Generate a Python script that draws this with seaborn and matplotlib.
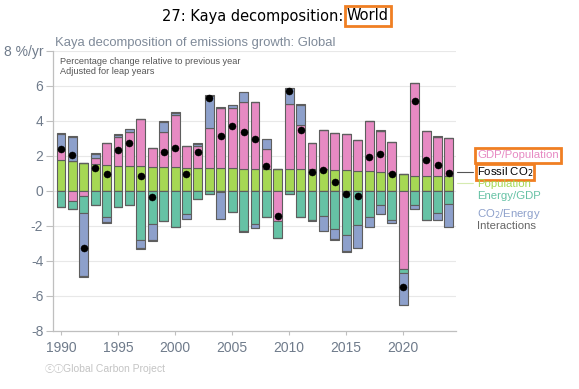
import numpy as np
import pandas as pd
import matplotlib
matplotlib.use("Agg")
import matplotlib.pyplot as plt
import seaborn as sns

years = list(range(1990, 2025))
population = [1.75, 1.68, 1.56, 1.52, 1.47, 1.43, 1.43, 1.39, 1.37, 1.33, 1.33,
              1.31, 1.30, 1.30, 1.30, 1.28, 1.26, 1.26, 1.24, 1.24, 1.24,
              1.22, 1.22, 1.22, 1.18, 1.16, 1.12, 1.12, 1.07, 1.03, 0.95,
              0.84, 0.82, 0.82, 0.82]
gdp_per_pop = [0.59, -0.60, -0.29, 0.33, 1.25, 1.64, 1.94, 2.71, 1.05, 2.00, 2.99,
               1.24, 1.23, 2.28, 3.44, 3.46, 3.79, 3.79, 1.14, -1.71, 3.71,
               2.55, 1.50, 2.27, 2.10, 2.08, 1.78, 2.84, 2.34, 1.75, -4.44,
               5.31, 2.59, 2.27, 2.21]
energy_per_gdp = [-0.90, -0.45, -0.99, -0.82, -1.50, -0.90, -0.82, -2.82, -1.90, -1.75, -2.06,
                  -1.33, -0.48, -0.17, -0.05, -1.20, -2.29, -1.90, -1.52, -0.96, -0.17,
                  -1.47, -1.66, -1.43, -2.19, -2.51, -1.96, -1.52, -0.82, -1.64, -0.27,
                  -0.82, -1.66, -1.26, -0.76]
co2_per_energy = [0.90, 1.37, -3.58, 0.23, -0.31, 0.13, 0.15, -0.46, -0.92, 0.61, 0.12,
                  -0.29, 0.14, 1.81, -1.57, 0.14, 0.61, -0.20, 0.57, 0.00, 0.90,
                  1.13, 0.00, -0.89, -0.57, -0.92, -1.28, -0.54, -0.53, -0.21, -1.79,
                  -0.23, 0.00, -0.38, -1.28]
interactions = [0.04, 0.05, -0.05, 0.05, -0.04, 0.04, 0.03, -0.05, -0.03, 0.02, 0.04,
                0.02, 0.04, 0.06, 0.02, 0.03, -0.04, -0.03, 0.00, -0.03, 0.03,
                0.05, -0.04, 0.00, -0.03, -0.04, -0.03, 0.00, 0.03, 0.00, 0.03,
                0.00, 0.00, 0.03, 0.00]
fossil_co2 = [2.38, 2.06, -3.24, 1.28, 0.95, 2.34, 2.72, 0.86, -0.38, 2.21, 2.42,
              0.95, 2.19, 5.28, 3.14, 3.71, 3.33, 2.95, 1.43, -1.43, 5.71,
              3.48, 1.07, 1.16, 0.51, -0.21, -0.32, 1.90, 2.10, 0.93, -5.49,
              5.12, 1.77, 1.49, 1.01]

components = [
    ("Population", population, "#A6D854"),
    ("GDP/Population", gdp_per_pop, "#E78AC3"),
    ("Energy/GDP", energy_per_gdp, "#66C2A5"),
    ("CO2/Energy", co2_per_energy, "#8DA0CB"),
    ("Interactions", interactions, "#5A5A5A"),
]

sns.set_style("white")
plt.rcParams["font.family"] = ["Liberation Sans", "DejaVu Sans"]

W, H = 579, 389
fig = plt.figure(figsize=(W / 100, H / 100), dpi=100)
ax_l, ax_r, ax_t, ax_b = 53, 456, 50.5, 331
ax = fig.add_axes([ax_l / W, 1 - ax_b / H, (ax_r - ax_l) / W, (ax_b - ax_t) / H])

x = np.array(years, dtype=float)
pos_bottom = np.zeros(len(years))
neg_bottom = np.zeros(len(years))
for name, vals, color in components:
    v = np.array(vals, dtype=float)
    pos = np.where(v > 0, v, 0)
    neg = np.where(v < 0, v, 0)
    ax.bar(x, pos, bottom=pos_bottom, width=0.78, color=color,
           edgecolor="#5E5E5E", linewidth=0.8, zorder=3)
    ax.bar(x, neg, bottom=neg_bottom, width=0.78, color=color,
           edgecolor="#5E5E5E", linewidth=0.8, zorder=3)
    pos_bottom += pos
    neg_bottom += neg

df = pd.DataFrame({"year": years, "fossil": fossil_co2})
sns.scatterplot(data=df, x="year", y="fossil", color="black", s=26,
                edgecolor="black", linewidth=0.3, zorder=5, ax=ax, legend=False)

ax.set_xlim(1989.3, 2024.62)
ax.set_ylim(-8, 8)
yt = [-8, -6, -4, -2, 0, 2, 4, 6, 8]
ax.set_yticks(yt)
ax.set_yticklabels(["-8", "-6", "-4", "-2", "0", "2", "4", "6", "8 %/yr"])
ax.set_xticks([1990, 1995, 2000, 2005, 2010, 2015, 2020])
ax.set_xticklabels(["1990", "1995", "2000", "2005", "2010", "2015", "2020"])
tick_col = "#6F7B8B"
ax.tick_params(axis="y", direction="out", length=5, width=0.8, color="#BFBFBF",
               labelcolor=tick_col, labelsize=10, pad=2, left=True)
ax.tick_params(axis="x", direction="out", length=3, width=0.8, color="#BFBFBF",
               labelcolor=tick_col, labelsize=10, pad=4, bottom=True)
ax.set_xlabel("")
ax.set_ylabel("")
ax.grid(axis="y", color="#E8E8E8", linewidth=0.8, zorder=0)
ax.grid(axis="x", visible=False)
for s in ["top", "right"]:
    ax.spines[s].set_visible(False)
for s in ["left", "bottom"]:
    ax.spines[s].set_color("#BFBFBF")
    ax.spines[s].set_linewidth(0.9)

def fx(px):
    return px / W

def fy(py):
    return 1 - py / H

orange = "#F07F22"
# Title
fig.text(fx(343), fy(16), "27: Kaya decomposition:", fontsize=10.5,
         family="DejaVu Sans", va="center", ha="right", color="black")
fig.text(fx(347), fy(16), "World", fontsize=10.5, family="DejaVu Sans",
         va="center", ha="left", color="black",
         bbox=dict(boxstyle="square,pad=0.15", fc="white", ec=orange, lw=2))

fig.text(fx(55), fy(43), "Kaya decomposition of emissions growth: Global",
         fontsize=9.4, color="#7F8A99", va="center", ha="left")
fig.text(fx(60), fy(61.5), "Percentage change relative to previous year",
         fontsize=6.6, color="#555555", va="center", ha="left")
fig.text(fx(60), fy(71.5), "Adjusted for leap years",
         fontsize=6.6, color="#555555", va="center", ha="left")

fig.text(fx(45), fy(369), "\u24d2\u24d8", fontsize=7, color="#C4C4C4",
         va="center", ha="left", family=["Noto Sans CJK SC", "DejaVu Sans"])
fig.text(fx(63), fy(369), "Global Carbon Project", fontsize=7.5,
         color="#C4C4C4", va="center", ha="left")

# Legend labels on the right
fig.text(fx(477), fy(155.5), "GDP/Population", fontsize=8.2, color="#E78AC3",
         va="center", ha="left",
         bbox=dict(boxstyle="square,pad=0.2", fc="white", ec=orange, lw=2))
fig.text(fx(477), fy(172), "Fossil CO$_2$", fontsize=8.2, color="black",
         va="center", ha="left",
         bbox=dict(boxstyle="square,pad=0.1", fc="white", ec=orange, lw=2))
fig.text(fx(477), fy(183.5), "Population", fontsize=8.2, color="#A6D854",
         va="center", ha="left")
fig.text(fx(477), fy(196), "Energy/GDP", fontsize=8.2, color="#66C2A5",
         va="center", ha="left")
fig.text(fx(477), fy(214), "CO$_2$/Energy", fontsize=8.2, color="#8DA0CB",
         va="center", ha="left")
fig.text(fx(477), fy(226), "Interactions", fontsize=8.2, color="#666666",
         va="center", ha="left")
fig.add_artist(plt.Line2D([fx(457), fx(473)], [fy(172), fy(172)],
                          color="#555555", lw=0.8))
fig.add_artist(plt.Line2D([fx(457), fx(473)], [fy(183), fy(183)],
                          color="#D5EBB0", lw=0.8))

fig.savefig("out.png", dpi=100)
